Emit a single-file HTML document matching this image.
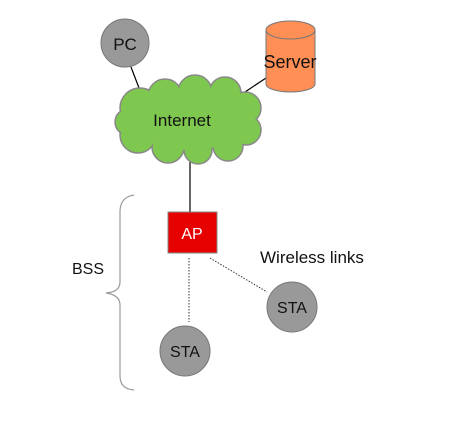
<!DOCTYPE html>
<html><head><style>body{margin:0;background:#fff}</style></head><body>
<svg width="452" height="437" xmlns="http://www.w3.org/2000/svg" font-family="Liberation Sans, sans-serif">
<line x1="131" y1="67" x2="139" y2="88" stroke="#000" stroke-width="1.2"/>
<line x1="266" y1="78" x2="245" y2="92" stroke="#000" stroke-width="1.2"/>
<line x1="190" y1="160" x2="190" y2="213" stroke="#000" stroke-width="1.2"/>
<circle cx="125" cy="43" r="24" fill="#999" stroke="#777"/>
<text x="125" y="50" font-size="17" text-anchor="middle" fill="#111">PC</text>
<path d="M266,30 L266,84 A24.5,8 0 0 0 315,84 L315,30" fill="#ff8f55" stroke="#777"/>
<ellipse cx="290.5" cy="30" rx="24.5" ry="9" fill="#ff8f55" stroke="#777"/>
<text x="290" y="68" font-size="18" text-anchor="middle" fill="#111">Server</text>
<g fill="#7ec850" stroke="#888" stroke-width="1.5">
<circle cx="140" cy="108" r="20"/><circle cx="165" cy="96" r="17"/><circle cx="195" cy="92" r="17"/>
<circle cx="225" cy="93" r="16"/><circle cx="245" cy="108" r="16"/><circle cx="246" cy="130" r="15"/>
<circle cx="228" cy="146" r="15"/><circle cx="198" cy="150" r="14"/><circle cx="168" cy="147" r="16"/>
<circle cx="138" cy="135" r="18"/><circle cx="128" cy="122" r="13"/>
</g>
<g fill="#7ec850">
<circle cx="140" cy="108" r="19"/><circle cx="165" cy="96" r="16"/><circle cx="195" cy="92" r="16"/>
<circle cx="225" cy="93" r="15"/><circle cx="245" cy="108" r="15"/><circle cx="246" cy="130" r="14"/>
<circle cx="228" cy="146" r="14"/><circle cx="198" cy="150" r="13"/><circle cx="168" cy="147" r="15"/>
<circle cx="138" cy="135" r="17"/><circle cx="128" cy="122" r="12"/>
<ellipse cx="190" cy="122" rx="55" ry="28"/>
</g>
<text x="182" y="126" font-size="17" text-anchor="middle" fill="#111">Internet</text>
<rect x="168" y="212" width="49" height="41" fill="#e60000" stroke="#888"/>
<text x="192" y="239" font-size="16" text-anchor="middle" fill="#fff">AP</text>
<line x1="189" y1="258" x2="189" y2="322" stroke="#333" stroke-dasharray="1.5,1.5"/>
<line x1="210" y1="258" x2="267" y2="292" stroke="#333" stroke-dasharray="1.5,1.5"/>
<circle cx="185" cy="351" r="25" fill="#999" stroke="#777"/>
<text x="185" y="357" font-size="16" text-anchor="middle" fill="#111">STA</text>
<circle cx="292" cy="307" r="25" fill="#999" stroke="#777"/>
<text x="292" y="313" font-size="16" text-anchor="middle" fill="#111">STA</text>
<text x="260" y="263" font-size="17" fill="#111">Wireless links</text>
<text x="72" y="274" font-size="16" fill="#111">BSS</text>
<path d="M134,195 Q120,197 120,212 L120,282 Q120,292 106,293 Q120,295 120,305 L120,376 Q120,389 134,390" fill="none" stroke="#999" stroke-width="1.2"/>
</svg>
</body></html>
